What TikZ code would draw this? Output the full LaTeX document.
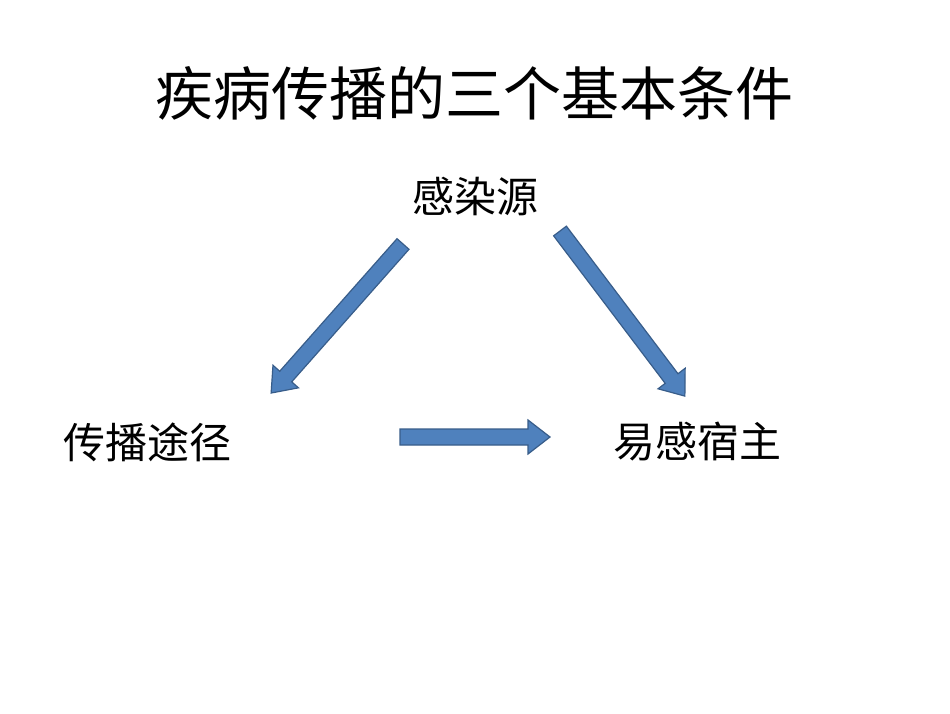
\documentclass[tikz,border=0pt]{standalone}
\usepackage{fontspec}
\setmainfont{Noto Sans CJK SC}
\newfontfamily\cjk{Noto Sans CJK SC}
\definecolor{arrfill}{HTML}{4F81BD}
\definecolor{arrline}{HTML}{385D8A}
\tikzset{blockarrow/.style={fill=arrfill,draw=arrline,line width=1.2pt,line join=miter},
  lbl/.style={font=\cjk\fontsize{42}{48}\selectfont,inner sep=0pt}}
\newcommand\myblockarr[4]{% x y angle length
  \draw[blockarrow,shift={(#1,#2)},rotate=#3] (0,-8) -- (#4-22,-8) -- (#4-22,-17) -- (#4,0) -- (#4-22,17) -- (#4-22,8) -- (0,8) -- cycle;}
\begin{document}
\begin{tikzpicture}[x=1pt,y=1pt]
\useasboundingbox[fill=white] (0,0) rectangle (950,713);
\node[inner sep=0pt,font=\cjk\fontsize{58}{66}\selectfont] (title) at (474,620) {疾病传播的三个基本条件};
\node[lbl] (src) at (475,516) {感染源};
\node[lbl] (route) at (147,271) {传播途径};
\node[lbl] (host) at (697,271) {易感宿主};
\myblockarr{403}{469}{-131.5}{199}
\myblockarr{560}{482}{-52.9}{207}
\myblockarr{400}{276}{0}{150}
\end{tikzpicture}
\end{document}
